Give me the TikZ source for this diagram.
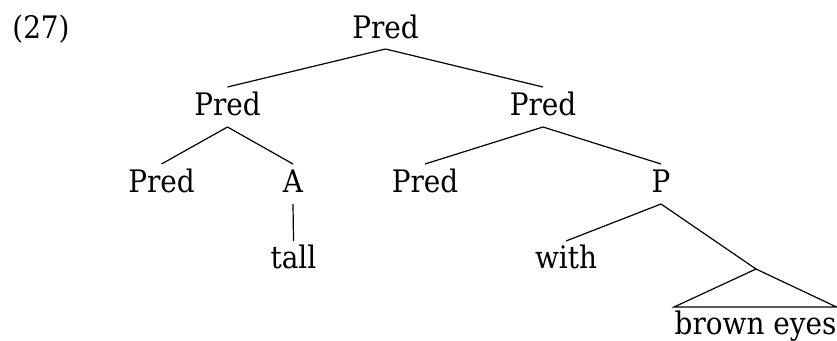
\documentclass[tikz,border=0pt]{standalone}
\usepackage{fontspec}
\setmainfont{DejaVu Serif Condensed}
\usetikzlibrary{calc}
\begin{document}
\begin{tikzpicture}[x=1pt,y=-1pt,
  lbl/.style={anchor=base,inner sep=0pt,font=\fontsize{31}{37}\selectfont},
  branch/.style={line width=1.2pt}]
\useasboundingbox (0,0) rectangle (837,340);
% example number
\node[lbl] (num) at (41,38) {(27)};
% tree labels
\node[lbl] (root) at (385.5,38) {Pred};
\node[lbl] (pl)   at (227.5,115) {Pred};
\node[lbl] (pr)   at (543,115) {Pred};
\node[lbl] (pll)  at (161.5,192) {Pred};
\node[lbl] (a)    at (293,192) {A};
\node[lbl] (prl)  at (425,192) {Pred};
\node[lbl] (p)    at (661,192) {P};
\node[lbl] (tall) at (293.5,268) {tall};
\node[lbl] (with) at (566,268) {with};
\coordinate (dp) at (756,269);
\node[lbl] (be)   at (755.5,334) {brown eyes};
% branches
\draw[branch] ($(root.base)+(0,11)$) -- ($(pl.base)+(0,-28)$);
\draw[branch] ($(root.base)+(0,11)$) -- ($(pr.base)+(0,-28)$);
\draw[branch] ($(pl.base)+(0,12)$) -- ($(pll.base)+(0,-28)$);
\draw[branch] ($(pl.base)+(0,12)$) -- ($(a.base)+(0,-28)$);
\draw[branch] ($(pr.base)+(0,12)$) -- ($(prl.base)+(0,-28)$);
\draw[branch] ($(pr.base)+(0,12)$) -- ($(p.base)+(0,-28)$);
\draw[branch] ($(a.base)+(0,12)$) -- ($(tall.base)+(0,-27)$);
\draw[branch] ($(p.base)+(0,12)$) -- ($(with.base)+(0,-27)$);
\draw[branch] ($(p.base)+(0,12)$) -- (dp);
% roof over the phrase
\draw[branch] (dp) -- ($(be.base)+(-81.5,-27)$) -- ($(be.base)+(81,-27)$) -- cycle;
\end{tikzpicture}
\end{document}
